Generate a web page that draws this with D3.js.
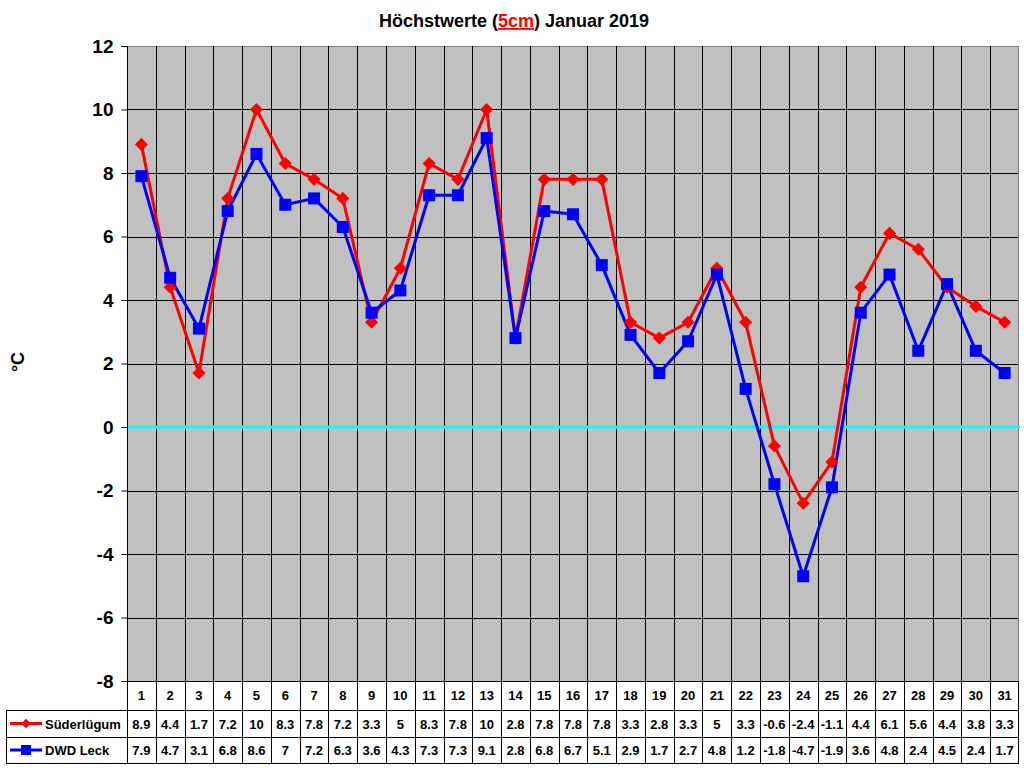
<!DOCTYPE html>
<html><head><meta charset="utf-8">
<script src="https://cdn.jsdelivr.net/npm/d3@7"></script>
<style>body{margin:0;background:#fff}svg{display:block}text{font-family:"Liberation Sans",Arial,sans-serif;font-weight:bold}</style>
</head><body>
<script>
const days = d3.range(1,32).map(String);
const suederluegum = [8.9,4.4,1.7,7.2,10,8.3,7.8,7.2,3.3,5,8.3,7.8,10,2.8,7.8,7.8,7.8,3.3,2.8,3.3,5,3.3,-0.6,-2.4,-1.1,4.4,6.1,5.6,4.4,3.8,3.3];
const dwdLeck = [7.9,4.7,3.1,6.8,8.6,7,7.2,6.3,3.6,4.3,7.3,7.3,9.1,2.8,6.8,6.7,5.1,2.9,1.7,2.7,4.8,1.2,-1.8,-4.7,-1.9,3.6,4.8,2.4,4.5,2.4,1.7];
const yTicks = [-8,-6,-4,-2,0,2,4,6,8,10,12];
const seriesNames = ["Süderlügum","DWD Leck"];
const seriesColors = ["#ff0000","#0000ff"];

const W=1024,H=768;
const L=127,R=1019,T=46,B=681;
const svg=d3.select("body").append("svg").attr("width",W).attr("height",H);
const x=d3.scaleBand().domain(days).range([L,R]);
const y=d3.scaleLinear().domain([-8,12]).range([B,T]);
const step=x.step();

svg.append("rect").attr("x",L).attr("y",T).attr("width",R-L).attr("height",B-T).attr("fill","#c0c0c0");
svg.append("g").selectAll("line").data(yTicks.filter(d=>d!==-8&&d!==12)).join("line")
 .attr("x1",L).attr("x2",R).attr("y1",d=>Math.round(y(d))+0.5).attr("y2",d=>Math.round(y(d))+0.5)
 .attr("stroke","#000").attr("stroke-width",1);
svg.append("line").attr("x1",L).attr("x2",R).attr("y1",T+0.5).attr("y2",T+0.5).attr("stroke","#808080");
svg.append("line").attr("x1",R-0.5).attr("x2",R-0.5).attr("y1",T).attr("y2",B).attr("stroke","#808080");
const bounds=d3.range(0,32).map(i=>L+i*step);
svg.append("g").selectAll("line").data(bounds.slice(1,31)).join("line")
 .attr("x1",d=>Math.round(d)+0.5).attr("x2",d=>Math.round(d)+0.5).attr("y1",T).attr("y2",763)
 .attr("stroke","#000").attr("stroke-width",1);
svg.append("line").attr("x1",L).attr("x2",R+1).attr("y1",y(0)).attr("y2",y(0)).attr("stroke","#00ffff").attr("stroke-width",3);
const yAxis=d3.axisLeft(y).tickValues(yTicks).tickSize(6).tickPadding(8).tickFormat(d=>String(d));
const ga=svg.append("g").attr("transform",`translate(${L+0.5},0)`).call(yAxis);
ga.select(".domain").attr("stroke","#000").attr("d",`M-6,${T+0.5}H0V${B}`);
ga.selectAll(".tick line").attr("stroke","#000");
ga.selectAll(".tick text").attr("font-size",19).attr("fill","#000").attr("font-family","Liberation Sans, Arial, sans-serif").attr("font-weight","bold").attr("dy","0.34em");
svg.append("text").attr("transform","translate(24,362) rotate(-90)").attr("text-anchor","middle").attr("font-size",18).text("°C");
const title=svg.append("text").attr("x",514).attr("y",27).attr("text-anchor","middle").attr("font-size",18);
title.append("tspan").text("Höchstwerte (");
title.append("tspan").attr("fill","#ff0000").attr("text-decoration","underline").text("5cm");
title.append("tspan").text(") Januar 2019");

const rowTop=[681,710,737,763];
const tl=svg.append("g").attr("stroke","#000").attr("stroke-width",1);
tl.append("line").attr("x1",L+0.5).attr("x2",L+0.5).attr("y1",T).attr("y2",763);
tl.append("line").attr("x1",R-0.5).attr("x2",R-0.5).attr("y1",B).attr("y2",763);
tl.append("line").attr("x1",6.5).attr("x2",6.5).attr("y1",710).attr("y2",763);
tl.append("line").attr("x1",L).attr("x2",R).attr("y1",B+0.5).attr("y2",B+0.5);
[710,737,763].forEach(yy=>tl.append("line").attr("x1",6).attr("x2",R).attr("y1",yy+0.5).attr("y2",yy+0.5));
svg.append("g").selectAll("text").data(days).join("text")
 .attr("x",d=>x(d)+step/2).attr("y",700).attr("text-anchor","middle").attr("font-size",13).text(d=>d);
const allSeries=[suederluegum,dwdLeck];
allSeries.forEach((vals,si)=>{
  const cy=(rowTop[si+1]+rowTop[si+2])/2;
  svg.append("g").selectAll("text").data(vals).join("text")
   .attr("x",(d,i)=>x(days[i])+step/2).attr("y",cy+5).attr("text-anchor","middle").attr("font-size",13).text(d=>d);
  svg.append("line").attr("x1",10).attr("x2",42).attr("y1",cy).attr("y2",cy).attr("stroke",seriesColors[si]).attr("stroke-width",3);
  if(si===0) svg.append("path").attr("d",d3.symbol(d3.symbolDiamond2,60)()).attr("transform",`translate(26,${cy})`).attr("fill",seriesColors[si]);
  else svg.append("rect").attr("x",21).attr("y",cy-5).attr("width",10).attr("height",10).attr("fill",seriesColors[si]);
  svg.append("text").attr("x",45).attr("y",cy+5).attr("font-size",13).text(seriesNames[si]);
});

const line=d3.line().x((d,i)=>x(days[i])+step/2).y(d=>y(d));
allSeries.forEach((vals,si)=>{
  svg.append("path").datum(vals).attr("d",line).attr("fill","none").attr("stroke",seriesColors[si]).attr("stroke-width",3).attr("stroke-linejoin","round");
});
svg.append("g").selectAll("path").data(suederluegum).join("path")
 .attr("d",d3.symbol(d3.symbolDiamond2,110)()).attr("transform",(d,i)=>`translate(${x(days[i])+step/2},${y(d)})`).attr("fill","#ff0000");
svg.append("g").selectAll("rect").data(dwdLeck).join("rect")
 .attr("x",(d,i)=>x(days[i])+step/2-6).attr("y",d=>y(d)-6).attr("width",12).attr("height",12).attr("fill","#0000ff");
</script>
</body></html>
